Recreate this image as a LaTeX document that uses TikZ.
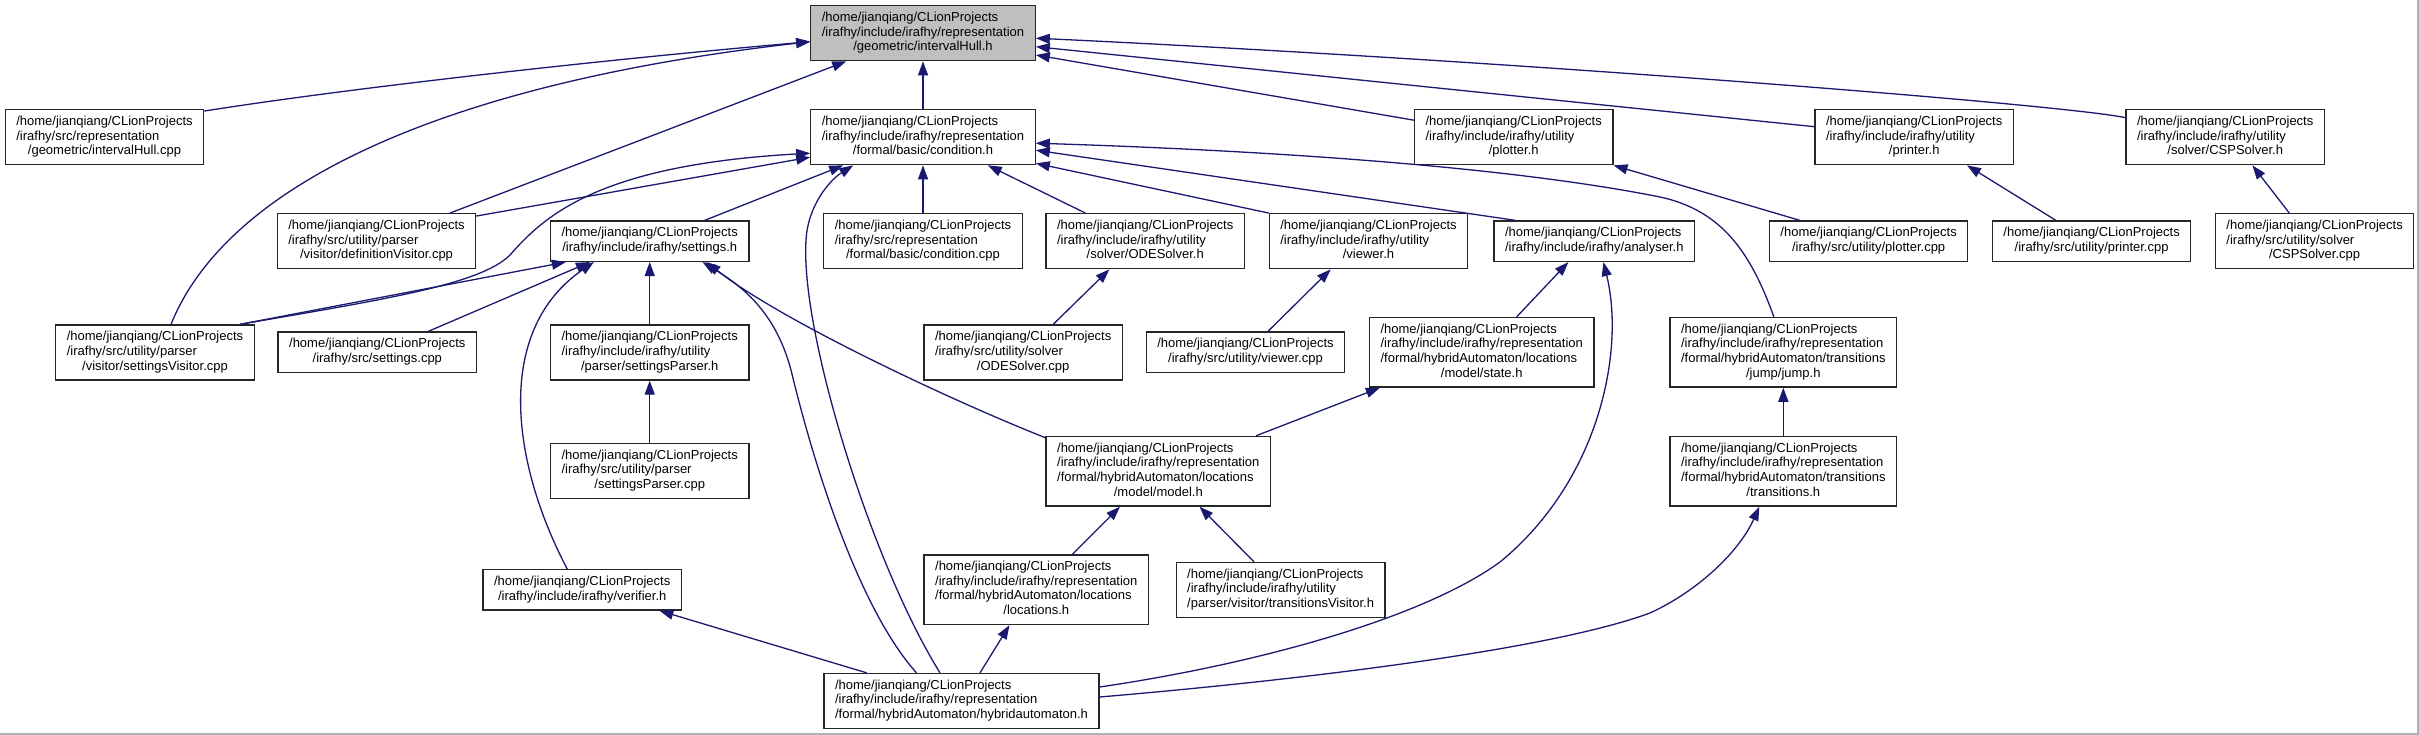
\documentclass[tikz,border=0pt]{standalone}
\usepackage{fontspec}
\setmainfont{Liberation Sans}
\usetikzlibrary{arrows.meta,calc}
\definecolor{mnb}{RGB}{25,25,112}
\definecolor{hdr}{RGB}{191,191,191}
\newcommand{\lbl}[2]{\begin{tabular}{@{}l@{}}#1\\\multicolumn{1}{@{}c@{}}{#2}\end{tabular}}
\newcommand{\hm}{/home/jianqiang/CLionProjects}
\newcommand{\ir}{/irafhy/include/irafhy}
\begin{document}
\begin{tikzpicture}[x=1pt,y=-1pt,
  box/.style={draw=black!85, line width=1.3pt, fill=white, inner xsep=11pt, inner ysep=5.6pt, font=\fontsize{13}{14.6}\selectfont},
  edge/.style={draw=mnb, line width=1.3pt, -{Triangle[length=14pt,width=10pt]}}]
\useasboundingbox (0,0) rectangle (2419,735);
\draw[gray!60, line width=2pt] (2418,0) -- (2418,734) -- (0,734);

% nodes
\node[box, fill=hdr] (IH) at (923,33.2) {\lbl{\hm\\\ir/representation}{/geometric/intervalHull.h}};
\node[box] (IHcpp) at (104.5,137.2) {\lbl{\hm\\/irafhy/src/representation}{/geometric/intervalHull.cpp}};
\node[box] (CH) at (923,137.2) {\lbl{\hm\\\ir/representation}{/formal/basic/condition.h}};
\node[box] (plotterh) at (1513.7,137.2) {\lbl{\hm\\\ir/utility}{/plotter.h}};
\node[box] (printerh) at (1914.2,137.2) {\lbl{\hm\\\ir/utility}{/printer.h}};
\node[box] (CSPh) at (2225.2,137.2) {\lbl{\hm\\\ir/utility}{/solver/CSPSolver.h}};
\node[box] (defVis) at (376.5,241.2) {\lbl{\hm\\/irafhy/src/utility/parser}{/visitor/definitionVisitor.cpp}};
\node[box] (SH) at (649.7,241.2) {\lbl{\hm}{\ir/settings.h}};
\node[box] (condcpp) at (923,241.2) {\lbl{\hm\\/irafhy/src/representation}{/formal/basic/condition.cpp}};
\node[box] (ODEh) at (1145.2,241.2) {\lbl{\hm\\\ir/utility}{/solver/ODESolver.h}};
\node[box] (viewerh) at (1368.5,241.2) {\lbl{\hm\\\ir/utility}{/viewer.h}};
\node[box] (analyserh) at (1594.3,241.2) {\lbl{\hm}{\ir/analyser.h}};
\node[box] (plottercpp) at (1868.6,241.2) {\lbl{\hm}{/irafhy/src/utility/plotter.cpp}};
\node[box] (printercpp) at (2091.6,241.2) {\lbl{\hm}{/irafhy/src/utility/printer.cpp}};
\node[box] (CSPcpp) at (2314.6,241.2) {\lbl{\hm\\/irafhy/src/utility/solver}{/CSPSolver.cpp}};
\node[box] (setVis) at (155,352.5) {\lbl{\hm\\/irafhy/src/utility/parser}{/visitor/settingsVisitor.cpp}};
\node[box] (setcpp) at (377.3,352.2) {\lbl{\hm}{/irafhy/src/settings.cpp}};
\node[box] (SPh) at (649.7,352.5) {\lbl{\hm\\\ir/utility}{/parser/settingsParser.h}};
\node[box] (ODEcpp) at (1023.2,352.5) {\lbl{\hm\\/irafhy/src/utility/solver}{/ODESolver.cpp}};
\node[box] (viewercpp) at (1245.5,352.2) {\lbl{\hm}{/irafhy/src/utility/viewer.cpp}};
\node[box] (stateh) at (1481.7,352.3) {\lbl{\hm\\\ir/representation\\/formal/hybridAutomaton/locations}{/model/state.h}};
\node[box] (jumph) at (1783.3,352.3) {\lbl{\hm\\\ir/representation\\/formal/hybridAutomaton/transitions}{/jump/jump.h}};
\node[box] (SPcpp) at (649.7,470.8) {\lbl{\hm\\/irafhy/src/utility/parser}{/settingsParser.cpp}};
\node[box] (model) at (1158.3,471.2) {\lbl{\hm\\\ir/representation\\/formal/hybridAutomaton/locations}{/model/model.h}};
\node[box] (transitionsh) at (1783.3,471.2) {\lbl{\hm\\\ir/representation\\/formal/hybridAutomaton/transitions}{/transitions.h}};
\node[box] (verifier) at (582.2,589.8) {\lbl{\hm}{\ir/verifier.h}};
\node[box] (locationsh) at (1036.3,589.7) {\lbl{\hm\\\ir/representation\\/formal/hybridAutomaton/locations}{/locations.h}};
\node[box] (transVisitor) at (1280.6,590) {\lbl{\hm\\\ir/utility}{/parser/visitor/transitionsVisitor.h}};
\node[box] (hybrid) at (961.5,701) {\lbl{\hm\\\ir/representation}{/formal/hybridAutomaton/hybridautomaton.h}};

% edges into intervalHull.h
\draw[edge] ($(IHcpp.north east)+(0,2)$) .. controls (350,88) and (600,60) .. ($(IH.west)+(0,8.5)$);
\draw[edge] ($(setVis.north)+(16,0)$) .. controls (225,190) and (430,85) .. ($(IH.west)+(0,8.5)$);
\draw[edge] ($(defVis.north)+(73.5,0)$) -- ($(IH.south west)+(36,0)$);
\draw[edge] (CH.north) -- (IH.south);
\draw[edge] ($(plotterh.west)+(0,-17)$) -- ($(IH.east)+(0,21.8)$);
\draw[edge] ($(printerh.west)+(0,-10.5)$) -- ($(IH.east)+(0,13.5)$);
\draw[edge] ($(CSPh.north west)+(0,8.6)$) .. controls (2060,104) and (1500,60) .. ($(IH.east)+(0,5)$);

% edges into condition.h
\draw[edge] ($(defVis.north east)+(0,3)$) -- ($(CH.west)+(0,20)$);
\draw[edge] ($(setVis.north)+(85,0)$) .. controls (380,300) and (480,285) .. (510,255)
   .. controls (545,215) and (600,165) .. ($(CH.west)+(0,16)$);
\draw[edge] ($(SH.north)+(55,0)$) -- ($(CH.south west)+(33,0)$);
\draw[edge] ($(hybrid.north)+(-21.5,0)$) .. controls (870,560) and (800,330) .. (806,240)
   .. controls (808,205) and (830,180) .. ($(CH.south west)+(43,0)$);
\draw[edge] (condcpp.north) -- (CH.south);
\draw[edge] ($(ODEh.north west)+(40,0)$) -- ($(CH.south east)+(-48,0)$);
\draw[edge] (viewerh.north west) -- ($(CH.south east)+(0,-2)$);
\draw[edge] ($(analyserh.north west)+(22,0)$) -- ($(CH.east)+(0,13)$);
\draw[edge] ($(jumph.north)+(-9.5,0)$) .. controls (1750,250) and (1720,210) .. (1660,197)
   .. controls (1500,165) and (1250,150) .. ($(CH.east)+(0,6)$);

% edges into settings.h
\draw[edge] ($(setVis.north)+(85,0)$) -- ($(SH.south west)+(16,0)$);
\draw[edge] ($(setcpp.north)+(51,0)$) -- ($(SH.south west)+(40,0)$);
\draw[edge] (SPh.north) -- (SH.south);
\draw[edge] ($(verifier.north)+(-15,0)$) .. controls (510,460) and (495,330) .. ($(SH.south west)+(44,0)$);
\draw[edge] ($(hybrid.north)+(-45,0)$) .. controls (860,610) and (815,470) .. (791,370)
   .. controls (775,310) and (740,285) .. ($(SH.south east)+(-47,0)$);
\draw[edge] ($(model.north west)+(0,2)$) .. controls (950,400) and (780,320) .. ($(SH.south east)+(-43,0)$);

% other edges
\draw[edge] (SPcpp.north) -- (SPh.south);
\draw[edge] ($(ODEcpp.north)+(30,0)$) -- ($(ODEh.south west)+(64,0)$);
\draw[edge] ($(viewercpp.north)+(22.5,0)$) -- ($(viewerh.south west)+(62,0)$);
\draw[edge] ($(plottercpp.north west)+(31,0)$) -- (plotterh.south east);
\draw[edge] ($(printercpp.north west)+(64,0)$) -- ($(printerh.south east)+(-47,0)$);
\draw[edge] ($(CSPcpp.north west)+(74.5,0)$) -- ($(CSPh.south west)+(127,0)$);
\draw[edge] ($(stateh.north)+(35,0)$) -- ($(analyserh.south west)+(75,0)$);
\draw[edge] ($(hybrid.east)+(0,-14)$) .. controls (1250,665) and (1420,620) .. (1500,562)
   .. controls (1600,480) and (1625,350) .. ($(analyserh.south west)+(110,0)$);
\draw[edge] ($(model.north east)+(-15,0)$) -- ($(stateh.south west)+(11,0)$);
\draw[edge] (transitionsh.north) -- (jumph.south);
\draw[edge] ($(hybrid.east)+(0,-4)$) .. controls (1300,680) and (1550,650) .. (1650,613)
   .. controls (1700,590) and (1740,550) .. ($(transitionsh.south)+(-24,0)$);
\draw[edge] ($(locationsh.north west)+(149,0)$) -- ($(model.south west)+(74.5,0)$);
\draw[edge] ($(transVisitor.north west)+(78.5,0)$) -- ($(model.south west)+(154,0)$);
\draw[edge] ($(hybrid.north)+(18.5,0)$) -- ($(locationsh.south west)+(86,0)$);
\draw[edge] ($(hybrid.north)+(-94.8,0)$) -- ($(verifier.south west)+(177,0)$);
\end{tikzpicture}
\end{document}
